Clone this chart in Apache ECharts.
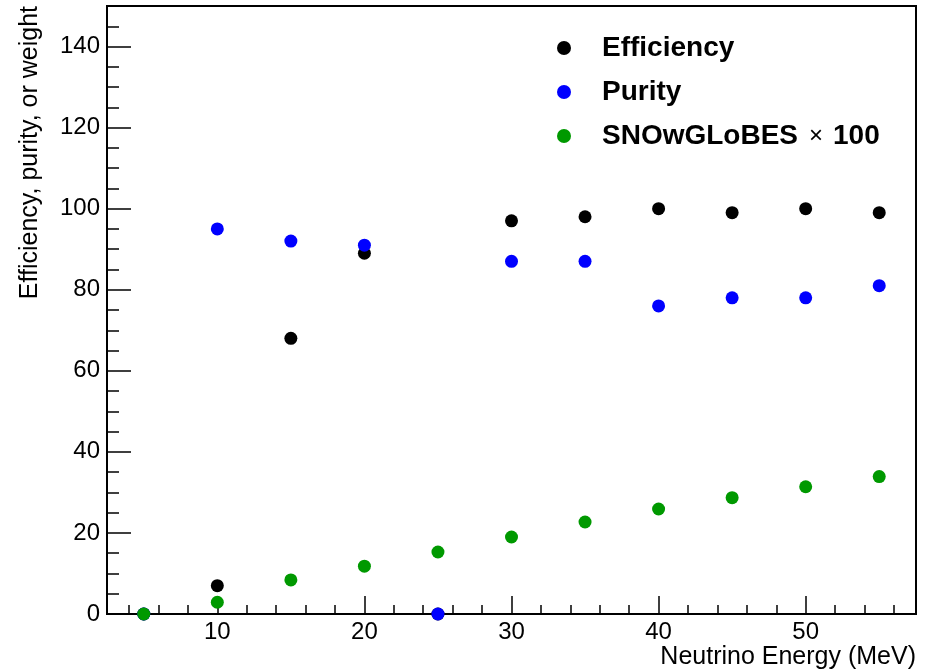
<!DOCTYPE html>
<html>
<head>
    <meta charset="utf-8">
    <title>Efficiency and purity</title>
    <script src="https://cdn.jsdelivr.net/npm/echarts@6/dist/echarts.min.js"></script>
    <style>
        html, body { margin: 0; padding: 0; background: #fff; }
        #main { width: 928px; height: 671px; }
    </style>
</head>
<body>
<div id="main"></div>
<script type="text/javascript">
    // neutrino energy bins (MeV)
    var energy = [5, 10, 15, 20, 25, 30, 35, 40, 45, 50, 55];
    // values
    var efficiency = [0, 7, 68, 89, 0, 97, 98, 100, 99, 100, 99];
    var purity = [0, 95, 92, 91, 0, 87, 87, 76, 78, 78, 81];
    var snowglobes = [0, 2.9, 8.4, 11.8, 15.3, 19.0, 22.7, 25.9, 28.7, 31.4, 33.9];

    var seriesNames = ['Efficiency', 'Purity', 'SNOwGLoBES x 100'];
    var seriesColors = ['#000000', '#0000ff', '#009900'];

    function pairs(ys) {
        var out = [];
        for (var i = 0; i < energy.length; i++) {
            out.push([energy[i], ys[i]]);
        }
        return out;
    }

    var font = "'Liberation Sans', Arial, Helvetica, sans-serif";
    var myChart = echarts.init(document.getElementById('main'));

    var option = {
        backgroundColor: '#ffffff',
        animation: false,
        textStyle: { fontFamily: font },
        grid: {
            left: 107, top: 6, right: 12, bottom: 57,
            show: true, borderColor: '#000', borderWidth: 2
        },
        legend: {
            orient: 'vertical',
            left: 552,
            top: 29,
            itemWidth: 66,
            itemHeight: 14,
            itemGap: 16,
            icon: 'circle',
            data: seriesNames,
            formatter: function (name) {
                if (name === 'SNOwGLoBES x 100') {
                    return '{b|SNOwGLoBES}{t|\u00d7}{b|100}';
                }
                return '{b|' + name + '}';
            },
            textStyle: {
                rich: {
                    b: { fontFamily: font, fontSize: 28, fontWeight: 'bold', color: '#000' },
                    t: { fontFamily: font, fontSize: 24, color: '#000', padding: [0, 10, 0, 11] }
                }
            }
        },
        xAxis: {
            type: 'value',
            min: 2.5,
            max: 57.5,
            splitNumber: 5,
            name: 'Neutrino Energy (MeV)',
            nameLocation: 'end',
            nameGap: 0,
            nameTextStyle: {
                fontFamily: font, fontSize: 25, color: '#000',
                align: 'right', verticalAlign: 'top', padding: [31, 0, 0, 0]
            },
            axisLine: { onZero: false, lineStyle: { color: '#000', width: 2 } },
            axisTick: { inside: true, length: 18, lineStyle: { color: '#000', width: 1.5 } },
            minorTick: { show: true, splitNumber: 5, length: 9, lineStyle: { color: '#000', width: 1.5 } },
            axisLabel: {
                margin: 6, fontFamily: font, fontSize: 24, color: '#000',
                showMinLabel: false, showMaxLabel: false
            },
            splitLine: { show: false }
        },
        yAxis: {
            type: 'value',
            min: 0,
            max: 150,
            interval: 20,
            name: 'Efficiency, purity, or weight',
            nameLocation: 'end',
            nameGap: 0,
            nameRotate: 90,
            nameTextStyle: {
                fontFamily: font, fontSize: 25, color: '#000',
                align: 'right', verticalAlign: 'bottom', padding: [0, 0, 64, 0]
            },
            axisLine: { onZero: false, lineStyle: { color: '#000', width: 2 } },
            axisTick: { inside: true, length: 24, lineStyle: { color: '#000', width: 1.5 } },
            minorTick: { show: true, splitNumber: 4, length: 12, lineStyle: { color: '#000', width: 1.5 } },
            axisLabel: {
                margin: 7, fontFamily: font, fontSize: 24, color: '#000',
                padding: [4, 0, 0, 0],
                showMaxLabel: false
            },
            splitLine: { show: false }
        },
        series: [
            {
                name: seriesNames[0], type: 'scatter', symbol: 'circle', symbolSize: 13,
                itemStyle: { color: seriesColors[0], opacity: 1 },
                data: pairs(efficiency), z: 2
            },
            {
                name: seriesNames[1], type: 'scatter', symbol: 'circle', symbolSize: 13,
                itemStyle: { color: seriesColors[1], opacity: 1 },
                data: pairs(purity), z: 3
            },
            {
                name: seriesNames[2], type: 'scatter', symbol: 'circle', symbolSize: 13,
                itemStyle: { color: seriesColors[2], opacity: 1 },
                data: pairs(snowglobes), z: 4
            }
        ]
    };

    myChart.setOption(option);
</script>
</body>
</html>
